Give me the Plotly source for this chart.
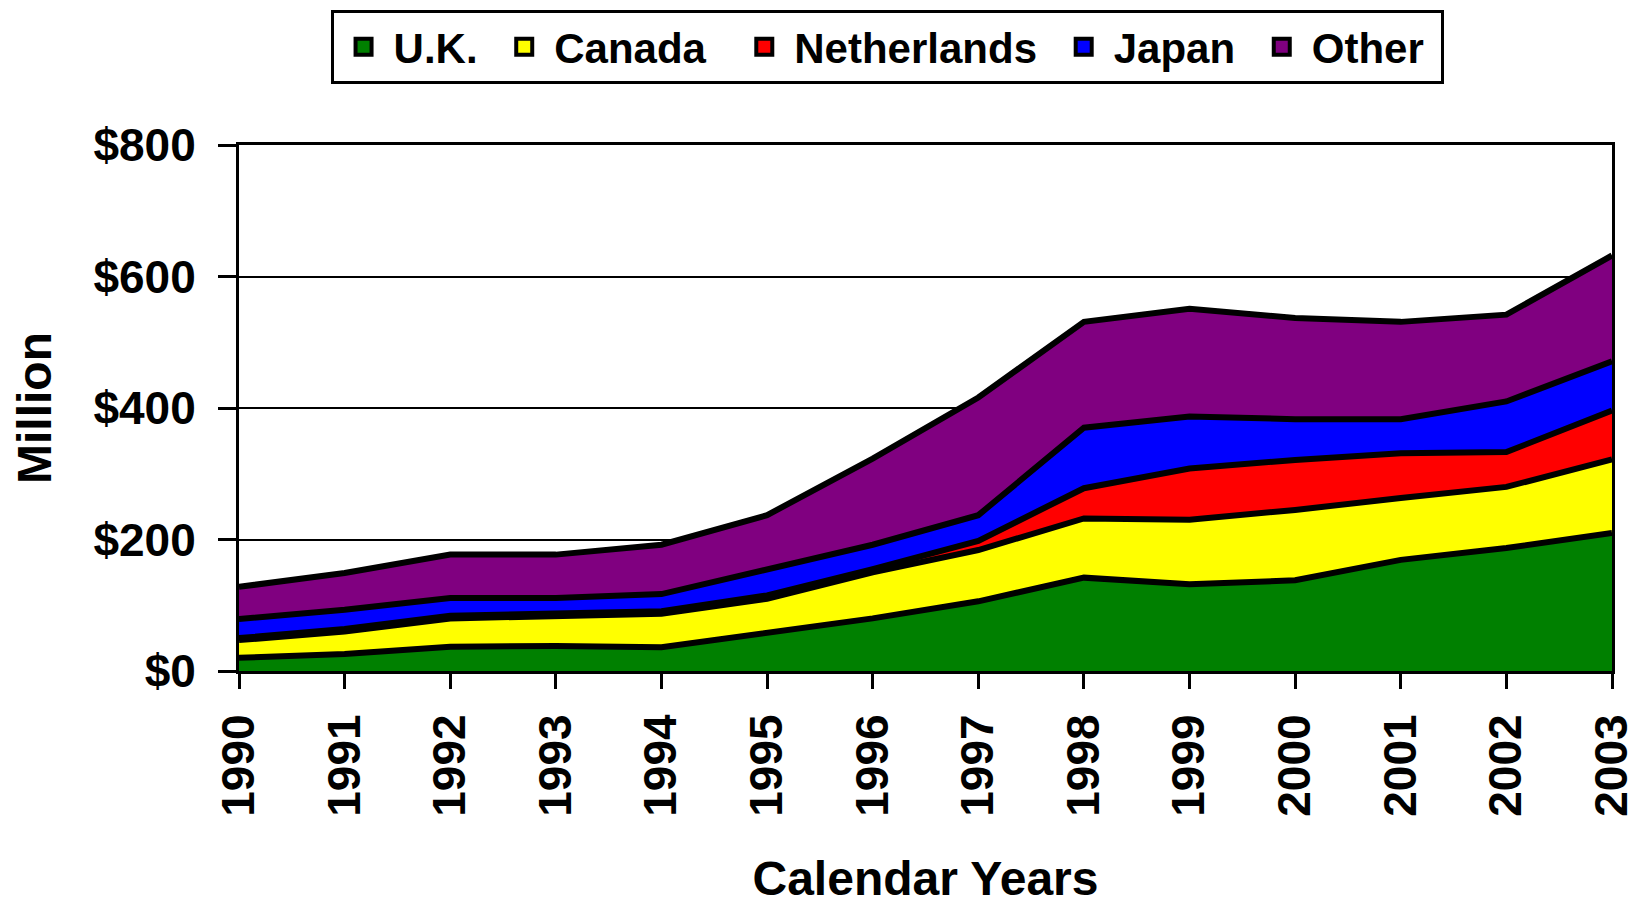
import plotly.graph_objects as go

years = [1990, 1991, 1992, 1993, 1994, 1995, 1996, 1997, 1998, 1999, 2000, 2001, 2002, 2003]
uk = [20, 26, 37, 38, 36, 58, 80, 106, 142, 132, 138, 169, 187, 210]
canada = [27, 34, 43, 46, 51, 52, 70, 78, 90, 98, 107, 94, 93, 112]
netherlands = [3, 4, 4, 4, 4, 5, 5, 14, 46, 78, 76, 68, 53, 74]
japan = [29, 29, 27, 23, 26, 40, 37, 39, 92, 79, 62, 52, 77, 75]
other = [49, 56, 66, 66, 75, 82, 131, 179, 161, 164, 154, 148, 132, 161]

series_names = ["U.K.", "Canada", "Netherlands", "Japan", "Other"]
series_values = [uk, canada, netherlands, japan, other]
series_colors = ["#008000", "#FFFF00", "#FF0000", "#0000FF", "#800080"]
legend_pad = [1, 2, 1, 1, 1]  # trailing non-breaking spaces for legend spacing

FONT = "Liberation Sans, Arial, sans-serif"

fig = go.Figure()
for name, vals, col in zip(series_names, series_values, series_colors):
    fig.add_trace(go.Scatter(
        x=years, y=vals, name=name, mode="lines",
        stackgroup="one", fillcolor=col,
        line=dict(color="black", width=6, shape="linear"),
        showlegend=False, hoverinfo="skip",
    ))

# legend entries (square swatches)
for name, col, pad in zip(series_names, series_colors, legend_pad):
    fig.add_trace(go.Scatter(
        x=[None], y=[None], name=name + "\u00a0" * pad, mode="markers",
        marker=dict(symbol="square", size=16, color=col,
                    line=dict(color="black", width=4)),
        showlegend=True,
    ))

fig.update_layout(
    width=1638, height=904,
    margin=dict(l=231, r=34, t=137, b=241, autoexpand=False),
    paper_bgcolor="white", plot_bgcolor="white",
    font=dict(family=FONT, size=46, color="black", weight="bold"),
    legend=dict(
        orientation="h", x=0.472, xanchor="center", y=1.2567, yanchor="top",
        bordercolor="black", borderwidth=3, itemwidth=50,
        font=dict(family=FONT, size=42, color="black", weight="bold"),
        itemsizing="trace", traceorder="normal",
    ),
    xaxis=dict(
        range=[1990, 2003], dtick=1, tick0=1990,
        tickangle=-90, showgrid=False, automargin=False,
        showline=True, linecolor="black", linewidth=3, mirror=True,
        ticks="outside", ticklen=15, tickwidth=3, tickcolor="black",
        ticklabelstandoff=7,
        tickfont=dict(family=FONT, size=46, color="black", weight="bold"),
        title=dict(text="Calendar Years", standoff=46,
                   font=dict(family=FONT, size=48, color="black", weight="bold")),
        zeroline=False,
    ),
    yaxis=dict(
        range=[0, 800], dtick=200, tick0=0, tickprefix="$",
        showgrid=True, gridcolor="black", gridwidth=2, automargin=False,
        showline=True, linecolor="black", linewidth=3, mirror=True,
        ticks="outside", ticklen=18, tickwidth=3, tickcolor="black",
        ticklabelstandoff=13,
        tickfont=dict(family=FONT, size=46, color="black", weight="bold"),
        title=dict(text="Million", standoff=39,
                   font=dict(family=FONT, size=48, color="black", weight="bold")),
        zeroline=False,
    ),
)

fig.write_html("out.html")
